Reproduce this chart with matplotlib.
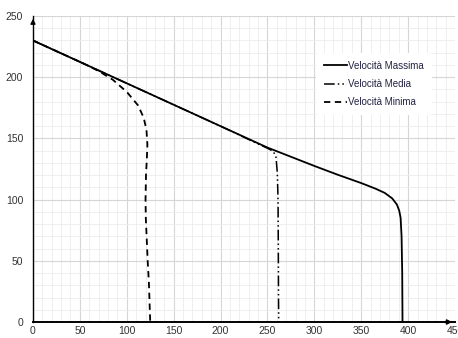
import matplotlib.pyplot as plt
from matplotlib.ticker import MultipleLocator

plt.rcParams["font.family"] = ["Liberation Sans", "DejaVu Sans"]

# Velocità Massima
max_x = [0, 50, 100, 150, 200, 250, 275, 300, 325, 350, 365, 375, 383, 388, 390.5, 392, 393, 393.7, 394]
max_y = [230, 212.5, 195, 177.5, 160, 142.5, 135, 127.5, 120.3, 113.5, 109, 105.5, 101, 96, 91, 85, 70, 40, 0]

# Velocità Media
med_x = [0, 50, 100, 150, 200, 240, 250, 256, 259, 260.5, 261.3, 261.6, 261.8, 262]
med_y = [230, 212.5, 195, 177.5, 160, 145.5, 142, 139.5, 135.5, 122, 100, 60, 20, 0]

# Velocità Minima
min_x = [0, 30, 55, 70, 85, 100, 112, 118, 121, 122, 121.5, 120.5, 120, 120.3, 121, 122.3, 123.6, 125]
min_y = [230, 219.5, 210.8, 205, 198, 188, 177, 167, 157, 145, 135, 120, 100, 85, 73, 50, 32, 0]

fig = plt.figure(figsize=(4.58, 3.38), dpi=100)
ax = fig.add_axes([0.072, 0.0473, 0.9215, 0.9054])

ax.plot(max_x, max_y, color="black", lw=1.3, label="Velocità Massima")
ax.plot(med_x, med_y, color="black", lw=1.1, linestyle=(0, (7, 2, 1, 2, 1, 2)),
        label="Velocità Media")
ax.plot(min_x, min_y, color="black", lw=1.3, linestyle=(0, (3.5, 2.5)),
        label="Velocità Minima")

ax.set_xlim(0, 450)
ax.set_ylim(0, 250)
ax.xaxis.set_major_locator(MultipleLocator(50))
ax.yaxis.set_major_locator(MultipleLocator(50))
ax.xaxis.set_minor_locator(MultipleLocator(10))
ax.yaxis.set_minor_locator(MultipleLocator(10))
ax.grid(which="major", color="#d6d6d6", lw=0.8)
ax.grid(which="minor", color="#ececec", lw=0.6)
ax.set_axisbelow(True)

ax.tick_params(which="both", length=0, labelsize=7.5, colors="#333333")
ax.tick_params(axis="x", pad=3)
ax.tick_params(axis="y", pad=7)

for s in ["top", "right"]:
    ax.spines[s].set_visible(False)
ax.spines["bottom"].set_linewidth(1.4)
ax.spines["left"].set_linewidth(1.0)

# frecce sugli assi
ax.annotate("", xy=(1.0, 0), xytext=(0.97, 0), xycoords="axes fraction",
            arrowprops=dict(arrowstyle="-|>", color="black", lw=1.2,
                            mutation_scale=7), annotation_clip=False)
ax.annotate("", xy=(0, 1.0), xytext=(0, 0.97), xycoords="axes fraction",
            arrowprops=dict(arrowstyle="-|>", color="black", lw=1.0,
                            mutation_scale=7), annotation_clip=False)

leg = ax.legend(loc="upper left", bbox_to_anchor=(0.66, 0.895), frameon=True,
                fontsize=7, handlelength=2.4, handletextpad=0.1,
                labelspacing=0.85, borderpad=0.8)
leg.get_frame().set_edgecolor("none")
leg.get_frame().set_facecolor("white")
leg.get_frame().set_alpha(1.0)
for t in leg.get_texts():
    t.set_color("#222244")

fig.savefig("out.png", dpi=100)
